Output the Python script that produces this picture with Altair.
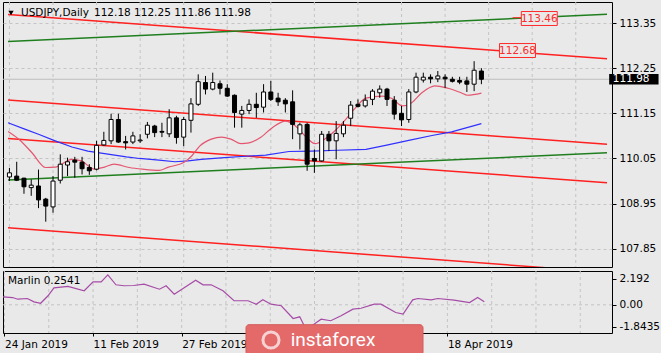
import altair as alt
import pandas as pd

FONT = "DejaVu Sans"
BG = "#e9e9e9"

# ---------------- data ----------------
bar_idx = list(range(66))
opens = [109.60, 109.62, 109.57, 109.34, 109.38, 109.06, 108.87, 109.52, 109.89, 110.01,
         109.96, 109.83, 109.79, 110.38, 110.48, 111.00, 110.46, 110.45, 110.48, 110.64,
         110.84, 110.71, 110.65, 111.04, 110.57, 110.98, 111.37, 111.90, 111.74, 111.87,
         111.76, 111.59, 111.13, 111.22, 111.37, 111.30, 111.67, 111.52, 111.47, 111.43,
         110.65, 110.88, 110.05, 109.99, 110.64, 110.48, 110.65, 111.03, 111.37, 111.33,
         111.49, 111.65, 111.74, 111.47, 111.15, 111.00, 111.67, 111.96, 112.03, 111.99,
         112.03, 111.98, 111.95, 111.94, 111.86, 112.18]
highs = [109.82, 109.97, 109.58, 109.54, 109.78, 109.09, 109.62, 110.15, 110.07, 110.09,
         110.09, 109.91, 110.48, 110.70, 111.14, 111.14, 110.60, 110.70, 110.64, 110.94,
         110.87, 110.92, 111.25, 111.09, 111.06, 111.52, 112.10, 112.06, 112.14, 111.95,
         111.86, 111.61, 111.33, 111.49, 111.65, 111.86, 111.94, 111.65, 111.52, 111.71,
         110.92, 110.92, 110.27, 110.72, 110.72, 110.96, 110.96, 111.45, 111.49, 111.61,
         111.74, 111.83, 111.77, 111.57, 111.33, 111.74, 112.14, 112.14, 112.10, 112.18,
         112.10, 112.04, 112.04, 112.04, 112.42, 112.25]
lows = [109.50, 109.50, 109.19, 109.14, 108.84, 108.51, 108.73, 109.44, 109.62, 109.58,
        109.66, 109.65, 109.76, 110.36, 110.40, 110.43, 110.27, 110.40, 110.43, 110.54,
        110.57, 110.57, 110.57, 110.41, 110.35, 110.68, 111.33, 111.61, 111.71, 111.61,
        111.55, 110.80, 110.80, 111.13, 111.04, 111.17, 111.45, 111.33, 111.17, 110.52,
        110.27, 109.75, 109.70, 109.97, 110.23, 110.03, 110.57, 110.84, 111.29, 111.29,
        111.35, 111.53, 111.33, 111.00, 110.84, 110.92, 111.64, 111.90, 111.88, 111.91,
        111.77, 111.90, 111.86, 111.67, 111.69, 111.86]
closes = [109.70, 109.52, 109.36, 109.40, 109.04, 108.89, 109.50, 109.91, 109.97, 109.96,
          109.80, 109.75, 110.37, 110.49, 111.00, 110.45, 110.43, 110.60, 110.50, 110.86,
          110.68, 110.69, 111.04, 110.56, 111.00, 111.38, 111.92, 111.74, 111.90, 111.76,
          111.57, 111.17, 111.22, 111.37, 111.29, 111.67, 111.49, 111.43, 111.38, 110.88,
          110.87, 109.91, 109.99, 110.64, 110.48, 110.66, 110.86, 111.35, 111.32, 111.47,
          111.69, 111.74, 111.49, 111.13, 110.99, 111.67, 112.03, 112.03, 111.99, 112.06,
          111.99, 111.93, 111.91, 111.86, 112.20, 111.98]

blue_idx = [-0.2, 2.2, 4.0, 6.3, 8.6, 10.8, 13.1, 16.1, 17.9, 20.6, 22.8, 24.6, 26.4,
            29.6, 33.0, 35.3, 38.5, 41.6, 45.2, 49.1, 51.8, 55.0, 58.2, 60.9, 65.0]
blue_val = [110.92, 110.76, 110.64, 110.48, 110.33, 110.23, 110.17, 110.09, 110.05, 110.01,
            109.97, 109.99, 110.03, 110.07, 110.11, 110.13, 110.22, 110.23, 110.25, 110.27,
            110.37, 110.49, 110.61, 110.70, 110.90]

pink_idx = [-0.2, 1.3, 3.1, 5.0, 6.3, 8.6, 9.9, 11.7, 13.1, 14.4, 16.5, 18.3, 20.6, 21.9,
            24.0, 25.1, 26.2, 27.8, 29.2, 30.5, 31.9, 33.0, 34.4, 36.2, 38.0, 39.4, 40.7,
            42.1, 43.4, 44.8, 46.1, 47.5, 49.1, 51.4, 52.7, 54.1, 55.4, 56.8, 58.6, 60.4,
            62.2, 63.1, 65.0]
pink_val = [110.71, 110.52, 110.19, 109.83, 109.84, 110.03, 109.99, 109.79, 109.84, 109.91,
            109.83, 109.79, 109.76, 109.84, 109.95, 110.11, 110.35, 110.52, 110.57, 110.52,
            110.41, 110.43, 110.54, 110.80, 110.96, 110.84, 110.60, 110.41, 110.52, 110.72,
            110.96, 111.25, 111.52, 111.57, 111.51, 111.33, 111.41, 111.65, 111.82, 111.76,
            111.65, 111.59, 111.64]

marlin_idx = [-0.2, 1.1, 1.8, 3.1, 4.0, 4.9, 5.9, 6.7, 8.6, 10.8, 12.0, 13.1, 14.0, 15.1,
              16.2, 17.5, 18.9, 21.0, 21.9, 23.0, 25.9, 26.9, 28.0, 29.6, 31.1, 33.0, 34.1,
              35.0, 36.1, 37.5, 39.1, 40.0, 40.6, 41.5, 42.9, 44.2, 45.6, 47.2, 48.3, 50.1,
              51.0, 53.0, 54.0, 55.3, 56.0, 57.8, 58.7, 60.9, 63.0, 64.1, 65.0]
marlin_val = [0.67, 0.61, 0.47, 0.53, 0.25, 0.13, 0.76, 1.43, 1.54, 1.18, 1.93, 1.93, 2.52,
              1.68, 1.60, 1.62, 1.73, 1.31, 1.60, 0.89, 2.07, 1.68, 1.68, 1.18, 0.34, 0.34,
              0.05, 0.42, 0.05, -0.08, -1.15, -1.01, -1.76, -1.82, -1.21, -1.34, -0.92,
              -0.37, -0.29, 0.05, 0.05, -0.65, -0.79, 0.42, 0.53, 0.42, 0.53, 0.39, 0.19,
              0.61, 0.25]

trend_names = ["chan_a", "chan_b", "chan_c", "chan_d", "up_a", "up_b"]
trend_colors = ["#ff2020", "#ff2020", "#ff2020", "#ff2020", "#1f7f1f", "#1f7f1f"]
trend_x = [-0.2, 82.3]
trend_start = [113.559, 111.472, 110.536, 108.361, 112.897, 109.526]
trend_end = [112.480, 110.395, 109.460, 107.277, 113.562, 110.190]

price_ticks = [107.85, 108.95, 110.05, 111.15, 112.25, 113.35]
grid_idx = list(range(0, 83, 6))
date_ticks = [0, 12, 24, 60]
date_labels = ["24 Jan 2019", "11 Feb 2019", "27 Feb 2019", "18 Apr 2019"]
sub_ticks = [2.192, 0.0, -1.8435]
sub_tick_labels = ["2.192", "0.00", "-1.8435"]

level_vals = [112.68, 113.46]
level_left = [67.5, 70.5]
marker_val = 113.48
marker_x = [69.3, 70.5]

symbol = "USDJPY,Daily"
ohlc_text = "112.18 112.25 111.86 111.98"
last_price = closes[-1]
marlin_last = "Marlin 0.2541"

# ---------------- helpers ----------------
xscale = alt.Scale(domain=[-0.2, 82.3], nice=False, zero=False)
yscale = alt.Scale(domain=[107.406, 113.862], nice=False, zero=False)
sscale = alt.Scale(domain=[-2.37, 2.84], nice=False, zero=False)


def label_expr(vals, labels):
    expr = "''"
    for v, l in zip(reversed(vals), reversed(labels)):
        expr = f"datum.value == {v} ? '{l}' : ({expr})"
    return expr


price_axis = alt.Axis(orient="right", values=price_ticks, format=".2f", title=None,
                      grid=True, gridDash=[3, 3], gridColor="#c4c4c4", tickSize=4,
                      tickColor="black", domain=False, labelPadding=3, labelFont=FONT,
                      labelFontSize=10.5, labelColor="black")
sub_axis = alt.Axis(orient="right", values=sub_ticks, labelExpr=label_expr(sub_ticks, sub_tick_labels),
                    title=None, grid=False, tickSize=4, tickColor="black", domain=False,
                    labelPadding=3, labelFont=FONT, labelFontSize=10.5, labelColor="black")
date_axis = alt.Axis(values=date_ticks, labelExpr=label_expr(date_ticks, date_labels), title=None,
                     grid=False, domain=False, tickSize=3, tickColor="black", labelAlign="left",
                     labelBaseline="top", labelPadding=3, labelFlush=False, labelOverlap=False,
                     labelFont=FONT, labelFontSize=10.5, labelColor="black")


def XM(f):
    return alt.X(f, type="quantitative", scale=xscale, axis=None)


def YM(f):
    return alt.Y(f, type="quantitative", scale=yscale, axis=price_axis)


def XS(f):
    return alt.X(f, type="quantitative", scale=xscale, axis=date_axis)


def YS(f):
    return alt.Y(f, type="quantitative", scale=sscale, axis=sub_axis)


# ---------------- main panel ----------------
candles = pd.DataFrame({"i": bar_idx, "o": opens, "h": highs, "l": lows, "c": closes})
grid_df = pd.DataFrame({"i": grid_idx})

trend_rows = []
for n, a, b in zip(trend_names, trend_start, trend_end):
    trend_rows.append({"name": n, "i": trend_x[0], "p": a})
    trend_rows.append({"name": n, "i": trend_x[1], "p": b})
trend_df = pd.DataFrame(trend_rows)

vgrid = alt.Chart(grid_df).mark_rule(strokeDash=[3, 3], color="#c4c4c4", strokeWidth=1).encode(x=XM("i"))
price_line = alt.Chart(pd.DataFrame({"p": [last_price]})).mark_rule(color="#bdbdbd", strokeWidth=1).encode(y=YM("p"))

trends = alt.Chart(trend_df).mark_line(clip=True, strokeWidth=1.5).encode(
    x=XM("i"), y=YM("p"),
    color=alt.Color("name:N", scale=alt.Scale(domain=trend_names, range=trend_colors), legend=None),
    detail="name:N")

blue = alt.Chart(pd.DataFrame({"i": blue_idx, "p": blue_val})).mark_line(
    clip=True, color="#3030ff", strokeWidth=1.2).encode(x=XM("i"), y=YM("p"))
pink = alt.Chart(pd.DataFrame({"i": pink_idx, "p": pink_val})).mark_line(
    clip=True, color="#e4566f", strokeWidth=1.2, interpolate="monotone").encode(x=XM("i"), y=YM("p"))

wicks = alt.Chart(candles).mark_rule(color="black", strokeWidth=1).encode(
    x=XM("i"), y=YM("l"), y2=alt.Y2("h"))
bodies = alt.Chart(candles).mark_bar(size=4, stroke="black", strokeWidth=1).encode(
    x=XM("i"), y=YM("o"), y2=alt.Y2("c"),
    fill=alt.when(alt.datum.c >= alt.datum.o).then(alt.value("white")).otherwise(alt.value("black")))

lv = pd.DataFrame({"v": level_vals, "i": level_left})
lv_boxes = alt.Chart(lv).transform_calculate(
    i1="datum.i + 4.95", p0="datum.v - 0.17", p1="datum.v + 0.17"
).mark_rect(fill=BG, stroke="#ff2a2a", strokeWidth=1, clip=False).encode(
    x=XM("i"), x2="i1:Q", y=YM("p0:Q"), y2="p1:Q")
lv_text = alt.Chart(lv).transform_calculate(ic="datum.i + 2.47").mark_text(
    font=FONT, fontSize=10.5, color="#ff2a2a", align="center", baseline="middle").encode(
    x=XM("ic:Q"), y=YM("v"), text=alt.Text("v:Q", format=".2f"))
marker = alt.Chart(pd.DataFrame({"i": [marker_x[0]], "i1": [marker_x[1]], "p": [marker_val]})).mark_rule(
    color="#ff2a2a", strokeWidth=1).encode(x=XM("i"), x2="i1:Q", y=YM("p"))

last_df = pd.DataFrame({"p": [last_price]})
last_box = alt.Chart(last_df).transform_calculate(
    i0="82.6", i1="89.4", p0="datum.p - 0.13", p1="datum.p + 0.13"
).mark_rect(color="black", clip=False).encode(x=XM("i0:Q"), x2="i1:Q", y=YM("p0:Q"), y2="p1:Q")
last_text = alt.Chart(last_df).transform_calculate(i0="83.1").mark_text(
    font=FONT, fontSize=10.5, color="white", align="left", baseline="middle", clip=False).encode(
    x=XM("i0:Q"), y=YM("p"), text=alt.Text("p:Q", format=".2f"))

tri = alt.Chart(pd.DataFrame({"t": [1]})).mark_point(
    shape="triangle-down", filled=True, color="black", size=28, opacity=1).encode(
    x=alt.value(8), y=alt.value(11))
title1 = alt.Chart(pd.DataFrame({"t": [symbol]})).mark_text(
    font=FONT, fontSize=10.5, color="black", align="left", baseline="middle").encode(
    x=alt.value(18), y=alt.value(11), text="t:N")
title2 = alt.Chart(pd.DataFrame({"t": [ohlc_text]})).mark_text(
    font=FONT, fontSize=10.5, color="black", align="left", baseline="middle").encode(
    x=alt.value(91), y=alt.value(11), text="t:N")

main = alt.layer(vgrid, price_line, trends, blue, pink, wicks, bodies, marker, lv_boxes, lv_text,
                 last_box, last_text, tri, title1, title2).properties(width=609, height=265)

# ---------------- sub panel ----------------
svgrid = alt.Chart(grid_df).mark_rule(strokeDash=[3, 3], color="#c4c4c4", strokeWidth=1).encode(x=XS("i"))
zero = alt.Chart(pd.DataFrame({"v": [0.0]})).mark_rule(strokeDash=[3, 3], color="#c4c4c4").encode(y=YS("v"))
marlin = alt.Chart(pd.DataFrame({"i": marlin_idx, "v": marlin_val})).mark_line(
    clip=True, color="#a64ca6", strokeWidth=1.2).encode(x=XS("i"), y=YS("v"))
mlabel = alt.Chart(pd.DataFrame({"t": [marlin_last]})).mark_text(
    font=FONT, fontSize=10.5, color="black", align="left", baseline="middle").encode(
    x=alt.value(5), y=alt.value(10), text="t:N")

wm_box = alt.Chart(pd.DataFrame({"t": [1]})).mark_rect(
    color="#e46a6a", cornerRadius=3, clip=False, stroke="#d45858", strokeWidth=1).encode(
    x=alt.value(243), x2=alt.value(420), y=alt.value(53.7), y2=alt.value(84))
wm_logo = alt.Chart(pd.DataFrame({"t": [1]})).mark_point(
    shape="circle", filled=False, stroke="white", strokeWidth=3, size=260, clip=False).encode(
    x=alt.value(268), y=alt.value(69))
wm_text = alt.Chart(pd.DataFrame({"t": ["instaforex"]})).mark_text(
    font="Roboto", fontSize=19, color="white", align="center", baseline="alphabetic", clip=False).encode(
    x=alt.value(330), y=alt.value(75), text="t:N")

sub = alt.layer(svgrid, zero, marlin, mlabel, wm_box, wm_logo, wm_text).properties(width=609, height=62)

chart = alt.vconcat(main, sub, spacing=2).properties(
    padding={"left": 2, "top": 1, "right": 0, "bottom": 0}, background=BG
).configure_view(stroke="black", strokeWidth=1)

chart.save("out.html", embed_options={"renderer": "svg", "actions": False})
